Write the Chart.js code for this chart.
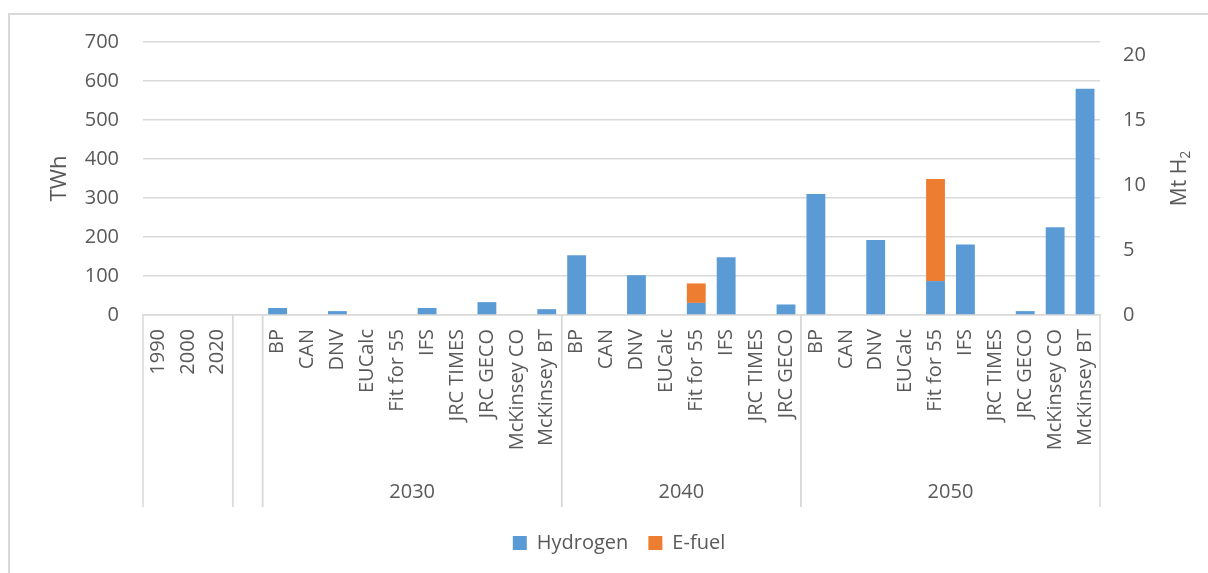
<!DOCTYPE html>
<html>
<head>
<meta charset="utf-8">
<script src="https://cdn.jsdelivr.net/npm/chart.js@4.4.0/dist/chart.umd.min.js"></script>
<style>
    body { margin: 0; background: #ffffff; overflow: hidden; }
    #wrap { position: relative; width: 1208px; height: 573px; overflow: hidden; }
    #frame { position: absolute; left: 8px; top: 13px; width: 1400px; height: 700px;
             border-left: 2px solid #d9d9d9; border-top: 2px solid #d9d9d9; }
    #chartArea { position: absolute; left: 0; top: 0; }
</style>
</head>
<body>
<div id="wrap">
    <div id="frame"></div>
    <canvas id="chartArea" width="1238" height="573"></canvas>
</div>
<script>
const chartArea = document.getElementById("chartArea");

//category labels, one per bar slot
var labels = ["1990", "2000", "2020", "",
    "BP", "CAN", "DNV", "EUCalc", "Fit for 55", "IFS", "JRC TIMES", "JRC GECO", "McKinsey CO", "McKinsey BT",
    "BP", "CAN", "DNV", "EUCalc", "Fit for 55", "IFS", "JRC TIMES", "JRC GECO",
    "BP", "CAN", "DNV", "EUCalc", "Fit for 55", "IFS", "JRC TIMES", "JRC GECO", "McKinsey CO", "McKinsey BT"];

//outer level of the category axis
var groupLabels = ["", "", "2030", "2040", "2050"];
var groupSizes = [3, 1, 10, 8, 10];

//TWh values
var hydrogen = [0, 0, 0, null,
    18, 0, 10, 0, 0, 18, 0, 33, 0, 15,
    153, 0, 102, 0, 31, 148, 0, 27,
    310, 0, 192, 0, 87, 181, 0, 10, 225, 580];
var efuel = [0, 0, 0, null,
    0, 0, 0, 0, 0, 0, 0, 0, 0, 0,
    0, 0, 0, 0, 50, 0, 0, 0,
    0, 0, 0, 0, 262, 0, 0, 0, 0, 0];

//right axis (Mt H2) ticks
var rightTicks = [0, 5, 10, 15, 20];

var fontName = "'Open Sans', sans-serif";
var textColor = "#595959";
var lineColor = "#d9d9d9";

//draws the group separators, group labels and the right axis title
const groupPlugin = {
    id: "groups",
    afterDraw(chart) {
        const ctx = chart.ctx;
        const x = chart.scales.x;
        const area = chart.chartArea;
        const half = (x.getPixelForValue(1) - x.getPixelForValue(0)) / 2;
        ctx.save();
        ctx.strokeStyle = lineColor;
        ctx.lineWidth = 1.5;
        ctx.fillStyle = textColor;
        ctx.font = "20px " + fontName;
        ctx.textAlign = "center";
        ctx.textBaseline = "middle";
        var start = 0;
        for (var i = 0; i < groupSizes.length; i++) {
            var end = start + groupSizes[i] - 1;
            var left = x.getPixelForValue(start) - half;
            var right = x.getPixelForValue(end) + half;
            ctx.beginPath();
            ctx.moveTo(left, area.bottom);
            ctx.lineTo(left, area.bottom + 192);
            ctx.moveTo(right, area.bottom);
            ctx.lineTo(right, area.bottom + 192);
            ctx.stroke();
            ctx.fillText(groupLabels[i], (left + right) / 2, area.bottom + 177);
            start = end + 1;
        }

        //right axis title with subscript
        const y2 = chart.scales.y2;
        ctx.translate(y2.left + 80, (area.top + area.bottom) / 2);
        ctx.rotate(-Math.PI / 2);
        ctx.textAlign = "left";
        ctx.font = "21px " + fontName;
        var mainW = ctx.measureText("Mt H").width;
        ctx.font = "14px " + fontName;
        var subW = ctx.measureText("2").width;
        var x0 = -(mainW + subW) / 2;
        ctx.font = "21px " + fontName;
        ctx.fillText("Mt H", x0, 0);
        ctx.font = "14px " + fontName;
        ctx.fillText("2", x0 + mainW, 6);
        ctx.restore();
    }
};

var barChart;

createBarChart();

function createBarChart() {
    barChart = new Chart(chartArea, {
        type: "bar",
        data: {
            labels: labels,
            datasets: [{
                label: "Hydrogen",
                data: hydrogen,
                backgroundColor: "#5b9bd5",
                categoryPercentage: 1,
                barPercentage: 0.63
            }, {
                label: "E-fuel",
                data: efuel,
                backgroundColor: "#ed7d31",
                categoryPercentage: 1,
                barPercentage: 0.63
            }]
        },
        options: {
            responsive: false,
            animation: false,
            layout: { padding: { left: 0, right: 0, top: 42, bottom: 10 } },
            plugins: {
                legend: {
                    position: "bottom",
                    labels: {
                        boxWidth: 14,
                        boxHeight: 14,
                        padding: 20,
                        color: textColor,
                        font: { family: fontName, size: 20 }
                    }
                },
                tooltip: { enabled: false }
            },
            scales: {
                x: {
                    stacked: true,
                    grid: { display: false, drawTicks: false },
                    border: { display: true, color: lineColor, width: 1.5 },
                    ticks: {
                        autoSkip: false,
                        maxRotation: 90,
                        minRotation: 90,
                        padding: 14,
                        color: textColor,
                        font: { family: fontName, size: 20 }
                    },
                    afterFit: function (scale) { scale.height = 198; }
                },
                y: {
                    stacked: true,
                    position: "left",
                    min: 0,
                    max: 700,
                    grid: { color: lineColor, lineWidth: 1.5, drawTicks: false },
                    border: { display: false },
                    ticks: {
                        stepSize: 100,
                        padding: 24,
                        color: textColor,
                        font: { family: fontName, size: 20 }
                    },
                    title: {
                        display: true,
                        text: "TWh",
                        color: textColor,
                        font: { family: fontName, size: 22 },
                        padding: { top: 47, bottom: 0 }
                    },
                    afterFit: function (scale) { scale.width = 143; }
                },
                y2: {
                    position: "right",
                    min: 0,
                    max: 21,
                    grid: { display: false, drawTicks: false },
                    border: { display: false },
                    ticks: {
                        padding: 23,
                        color: textColor,
                        font: { family: fontName, size: 20 }
                    },
                    afterBuildTicks: function (scale) {
                        scale.ticks = rightTicks.map(function (v) { return { value: v }; });
                    },
                    afterFit: function (scale) { scale.width = 138; }
                }
            }
        },
        plugins: [groupPlugin]
    });
}
</script>
</body>
</html>
